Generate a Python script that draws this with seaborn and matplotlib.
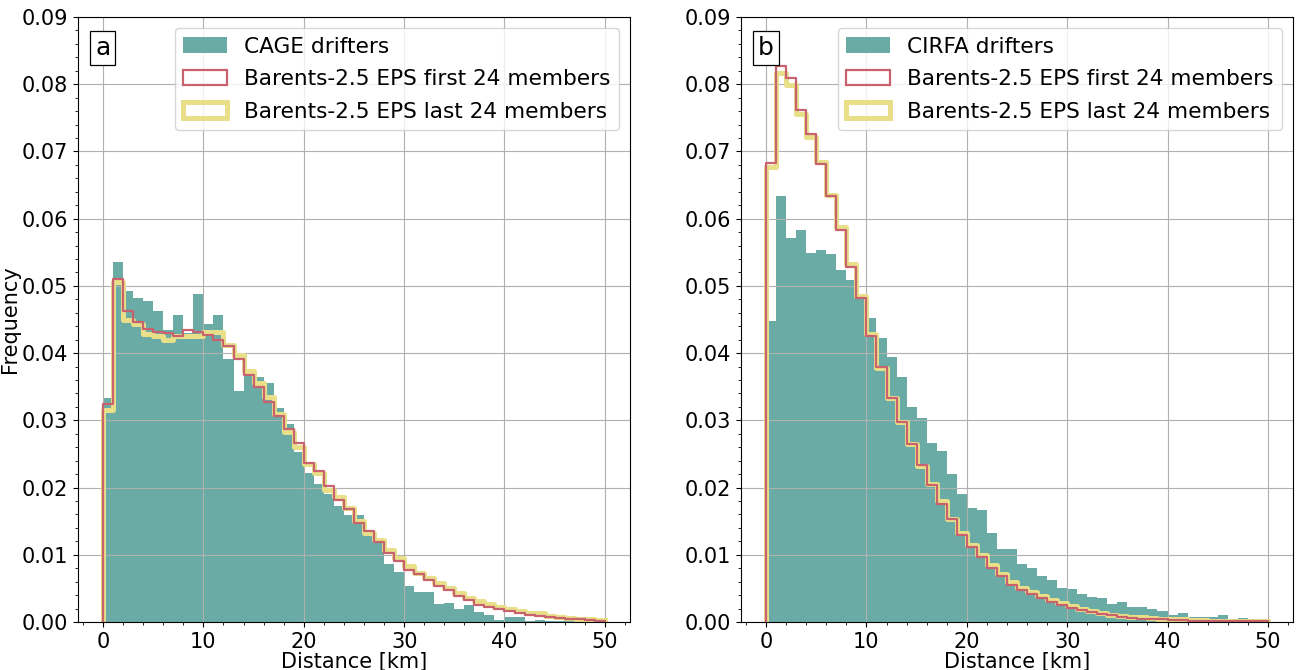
import numpy as np
import pandas as pd
import matplotlib
matplotlib.use("Agg")
import matplotlib.pyplot as plt
from matplotlib.patches import Patch
import seaborn as sns

# ---------------- data (frequency per 1-km bin, 0..50 km) ----------------
bin_edges_km = list(range(0, 51))

cage_drifters = [
    0.0333, 0.0535, 0.0492, 0.0482, 0.0478, 0.0463, 0.0435, 0.0457, 0.0430, 0.0488,
    0.0444, 0.0456, 0.0392, 0.0344, 0.0368, 0.0364, 0.0356, 0.0318, 0.0294, 0.0253,
    0.0221, 0.0205, 0.0191, 0.0173, 0.0159, 0.0159, 0.0132, 0.0118, 0.0087, 0.0075,
    0.0054, 0.0044, 0.0045, 0.0027, 0.0028, 0.0019, 0.0025, 0.0015, 0.0011, 0.0003,
    0.0007, 0.0007, 0.0002, 0.0003, 0.0002, 0.0001, 0.0001, 0.0000, 0.0000, 0.0000]
a_first24 = [
    0.0324, 0.0511, 0.0462, 0.0447, 0.0436, 0.0431, 0.0430, 0.0426, 0.0434, 0.0431,
    0.0427, 0.0419, 0.0410, 0.0391, 0.0368, 0.0350, 0.0328, 0.0306, 0.0287, 0.0267,
    0.0237, 0.0225, 0.0202, 0.0181, 0.0168, 0.0148, 0.0135, 0.0119, 0.0102, 0.0091,
    0.0077, 0.0071, 0.0062, 0.0054, 0.0047, 0.0039, 0.0033, 0.0026, 0.0022, 0.0020,
    0.0016, 0.0014, 0.0011, 0.0009, 0.0007, 0.0006, 0.0004, 0.0004, 0.0003, 0.0002]
a_last24 = [
    0.0316, 0.0506, 0.0450, 0.0443, 0.0428, 0.0426, 0.0420, 0.0425, 0.0426, 0.0426,
    0.0431, 0.0431, 0.0412, 0.0397, 0.0373, 0.0356, 0.0335, 0.0310, 0.0283, 0.0261,
    0.0235, 0.0222, 0.0197, 0.0186, 0.0169, 0.0151, 0.0133, 0.0122, 0.0107, 0.0095,
    0.0083, 0.0073, 0.0066, 0.0058, 0.0050, 0.0043, 0.0036, 0.0031, 0.0027, 0.0022,
    0.0020, 0.0016, 0.0014, 0.0013, 0.0009, 0.0008, 0.0006, 0.0005, 0.0004, 0.0003]

cirfa_drifters = [
    0.0448, 0.0634, 0.0571, 0.0583, 0.0549, 0.0554, 0.0547, 0.0523, 0.0509, 0.0481,
    0.0452, 0.0422, 0.0394, 0.0364, 0.0320, 0.0304, 0.0267, 0.0255, 0.0220, 0.0191,
    0.0169, 0.0166, 0.0132, 0.0109, 0.0108, 0.0087, 0.0081, 0.0069, 0.0062, 0.0051,
    0.0049, 0.0041, 0.0037, 0.0035, 0.0027, 0.0030, 0.0023, 0.0022, 0.0019, 0.0016,
    0.0010, 0.0013, 0.0008, 0.0008, 0.0007, 0.0010, 0.0004, 0.0006, 0.0003, 0.0002]
b_first24 = [
    0.0683, 0.0827, 0.0810, 0.0762, 0.0726, 0.0682, 0.0634, 0.0583, 0.0528, 0.0482,
    0.0426, 0.0380, 0.0334, 0.0297, 0.0265, 0.0234, 0.0204, 0.0175, 0.0153, 0.0129,
    0.0112, 0.0096, 0.0081, 0.0069, 0.0055, 0.0048, 0.0042, 0.0036, 0.0030, 0.0025,
    0.0021, 0.0018, 0.0015, 0.0012, 0.0010, 0.0008, 0.0006, 0.0005, 0.0004, 0.0004,
    0.0003, 0.0003, 0.0002, 0.0002, 0.0002, 0.0001, 0.0001, 0.0001, 0.0001, 0.0001]
b_last24 = [
    0.0677, 0.0816, 0.0799, 0.0755, 0.0722, 0.0684, 0.0635, 0.0587, 0.0533, 0.0485,
    0.0429, 0.0378, 0.0333, 0.0298, 0.0265, 0.0232, 0.0205, 0.0180, 0.0154, 0.0133,
    0.0115, 0.0100, 0.0085, 0.0071, 0.0059, 0.0051, 0.0044, 0.0039, 0.0033, 0.0028,
    0.0024, 0.0020, 0.0017, 0.0014, 0.0011, 0.0009, 0.0008, 0.0007, 0.0006, 0.0005,
    0.0004, 0.0004, 0.0003, 0.0003, 0.0002, 0.0002, 0.0002, 0.0001, 0.0001, 0.0001]

obs_labels = ["CAGE drifters", "CIRFA drifters"]
first_label = "Barents-2.5 EPS first 24 members"
last_label = "Barents-2.5 EPS last 24 members"
panel_letters = ["a", "b"]

# ---------------- style ----------------
TEAL = "#6AABA5"
RED = "#C9626F"
YELLOW = "#E8DF88"
FS = 15
LEG_FS = 15.6

plt.rcParams["font.family"] = ["DejaVu Sans"]

edges = np.array(bin_edges_km, dtype=float)
centers = 0.5 * (edges[:-1] + edges[1:])
# a zero-weight sliver bin before 0 so the step outline rises from the baseline
step_edges = np.concatenate([[edges[0] - 0.01], edges])
step_centers = 0.5 * (step_edges[:-1] + step_edges[1:])

fig = plt.figure(figsize=(12.97, 6.70), dpi=100)
ax_w = 0.4256
ax_a = fig.add_axes([0.0601, 0.0716, ax_w, 0.903])
ax_b = fig.add_axes([0.5713, 0.0716, ax_w, 0.903])

panels = [
    (ax_a, cage_drifters, a_first24, a_last24),
    (ax_b, cirfa_drifters, b_first24, b_last24),
]

for i, (ax, obs, first, last) in enumerate(panels):
    df_obs = pd.DataFrame({"dist": centers, "w": np.asarray(obs, dtype=float)})
    df_last = pd.DataFrame({"dist": step_centers,
                            "w": np.concatenate([[0.0], np.asarray(last, dtype=float)])})
    df_first = pd.DataFrame({"dist": step_centers,
                             "w": np.concatenate([[0.0], np.asarray(first, dtype=float)])})

    sns.histplot(data=df_obs, x="dist", weights="w", bins=edges.tolist(),
                 stat="count", element="bars", color=TEAL, alpha=1.0,
                 linewidth=0, edgecolor="none", ax=ax)
    sns.histplot(data=df_last, x="dist", weights="w", bins=step_edges.tolist(),
                 stat="count", element="step", fill=False,
                 color=YELLOW, linewidth=3.6, ax=ax)
    sns.histplot(data=df_first, x="dist", weights="w", bins=step_edges.tolist(),
                 stat="count", element="step", fill=False,
                 color=RED, linewidth=1.6, ax=ax)

    ax.set_xlim(-2.5, 52.5)
    ax.set_ylim(0, 0.09)
    ax.set_xticks(np.arange(0, 51, 10))
    ax.set_yticks(np.arange(0, 0.0901, 0.01))
    ax.yaxis.set_major_formatter(matplotlib.ticker.FormatStrFormatter("%.2f"))
    ax.minorticks_on()
    ax.grid(True, which="major", color="#b0b0b0", linewidth=0.8)
    ax.tick_params(labelsize=FS)
    ax.set_xlabel("Distance [km]", fontsize=FS, labelpad=0)
    ax.set_ylabel("Frequency" if i == 0 else "", fontsize=FS, labelpad=1)

    handles = [
        Patch(facecolor=TEAL, edgecolor="none", label=obs_labels[i]),
        Patch(facecolor="none", edgecolor=RED, linewidth=1.6, label=first_label),
        Patch(facecolor="none", edgecolor=YELLOW, linewidth=3.6, label=last_label),
    ]
    ax.legend(handles=handles, loc="upper right", fontsize=LEG_FS,
              borderaxespad=0.5, labelspacing=0.58)

    ax.text(0.031, 0.968, panel_letters[i], transform=ax.transAxes,
            fontsize=18, ha="left", va="top",
            bbox=dict(boxstyle="square,pad=0.2", facecolor="white",
                      edgecolor="black", linewidth=0.9))

fig.savefig("out.png", dpi=100)
